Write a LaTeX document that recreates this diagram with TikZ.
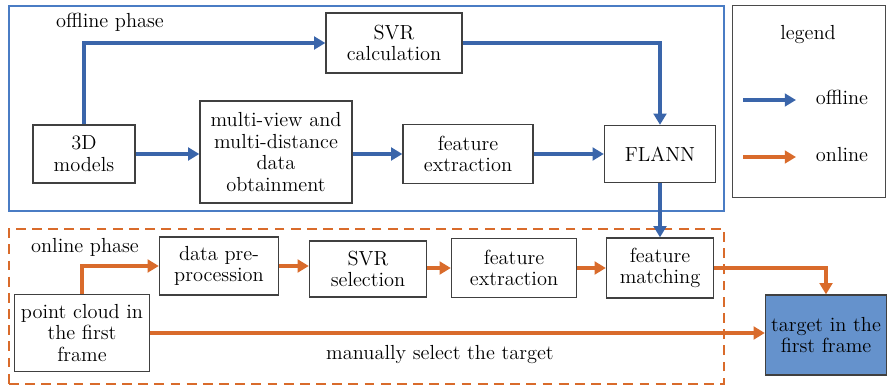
\documentclass[tikz,border=0pt]{standalone}
\usetikzlibrary{arrows.meta,positioning}
\definecolor{cOff}{HTML}{3A65AA}
\definecolor{cOffBox}{HTML}{4A7CC4}
\definecolor{cOn}{HTML}{D96B2B}
\definecolor{cTgt}{HTML}{6592CC}
\definecolor{cLeg}{HTML}{4A4A4A}
\tikzset{
  box/.style={draw=black!75, line width=0.9pt, fill=white, align=center, inner sep=1pt, font=\fontsize{14.5}{15.5}\selectfont},
  phase/.style={draw=#1, inner sep=0pt},
  lbl/.style={font=\fontsize{14.5}{15.5}\selectfont, inner sep=1pt},
  barr/.style={-{Triangle[length=8pt, width=9pt]}, line width=2.4pt, cOff},
  oarr/.style={-{Triangle[length=8pt, width=9pt]}, line width=2.4pt, cOn},
}
\begin{document}
\begin{tikzpicture}[x=0.025cm, y=-0.025cm]
\useasboundingbox (0,0) rectangle (889,385);
% ================= phase frames =================
\node[phase=cOffBox, line width=1.2pt, minimum width=17.875cm, minimum height=5.125cm, anchor=north west] (offbox) at (8,5) {};
\node[phase=cOn, line width=1.2pt, dash pattern=on 7pt off 4.5pt, minimum width=17.875cm, minimum height=3.875cm, anchor=north west] (onbox) at (8,228) {};
\node[phase=cLeg, line width=0.9pt, minimum width=3.825cm, minimum height=4.8cm, anchor=north west] (legbox) at (732,5) {};
% ================= offline =================
\node[lbl] (offlbl) at (110,22) {offline phase};
\node[box, minimum width=3.4cm, minimum height=1.5cm] (svrc) at (394,43) {SVR\\ calculation};
\node[box, minimum width=2.55cm, minimum height=1.45cm] (models) at (84,154) {3D\\ models};
\node[box, minimum width=3.8cm, minimum height=2.55cm] (mview) at (276,152) {multi-view and\\ multi-distance\\ data\\ obtainment};
\node[box, minimum width=3.25cm, minimum height=1.475cm] (fext) at (468,154) {feature\\ extraction};
\node[box, minimum width=2.775cm, minimum height=1.425cm] (flann) at (660,154) {FLANN};
\draw[barr] (models.north) |- (svrc.west);
\draw[barr] (svrc.east) -| (flann.north);
\draw[barr] (models.east) -- (models.east -| mview.west);
\draw[barr] (mview.east |- fext.west) -- (fext.west);
\draw[barr] (fext) -- (flann);
% ================= online =================
\node[lbl] (onlbl) at (85,247) {online phase};
\node[box, minimum width=2.975cm, minimum height=1.45cm] (prep) at (219,266) {data pre-\\ procession};
\node[box, minimum width=2.925cm, minimum height=1.4cm] (svrs) at (368,269) {SVR\\ selection};
\node[box, minimum width=3.125cm, minimum height=1.475cm] (fext2) at (514,268) {feature\\ extraction};
\node[box, minimum width=2.675cm, minimum height=1.5cm] (fmatch) at (660,268) {feature\\ matching};
\node[box, minimum width=3.375cm, minimum height=1.925cm] (pcloud) at (82,333) {point cloud in\\ the first\\ frame};
\node[box, fill=cTgt, minimum width=3.025cm, minimum height=2cm] (target) at (826,335) {target in the\\ first frame};
\node[lbl] (manual) at (440,355) {manually select the target};
\draw[barr] (flann) -- (fmatch);
\draw[oarr] (pcloud.north) |- (prep.west);
\draw[oarr] (prep.east) -- (prep.east -| svrs.west);
\draw[oarr] (svrs.east |- fext2.west) -- (fext2.west);
\draw[oarr] (fext2) -- (fmatch);
\draw[oarr] (fmatch.east) -| (target.north);
\draw[oarr] (pcloud.east) -- (pcloud.east -| target.west);
% ================= legend =================
\node[lbl] (leglbl) at (808,35) {legend};
\coordinate (offa) at (743,100); \coordinate (offb) at (796,100);
\coordinate (ona) at (743,157); \coordinate (onb) at (796,157);
\node[lbl] (offtxt) at (842,97) {offline};
\node[lbl] (ontxt) at (842,155) {online};
\draw[barr] (offa) -- (offb);
\draw[oarr] (ona) -- (onb);
\end{tikzpicture}
\end{document}
